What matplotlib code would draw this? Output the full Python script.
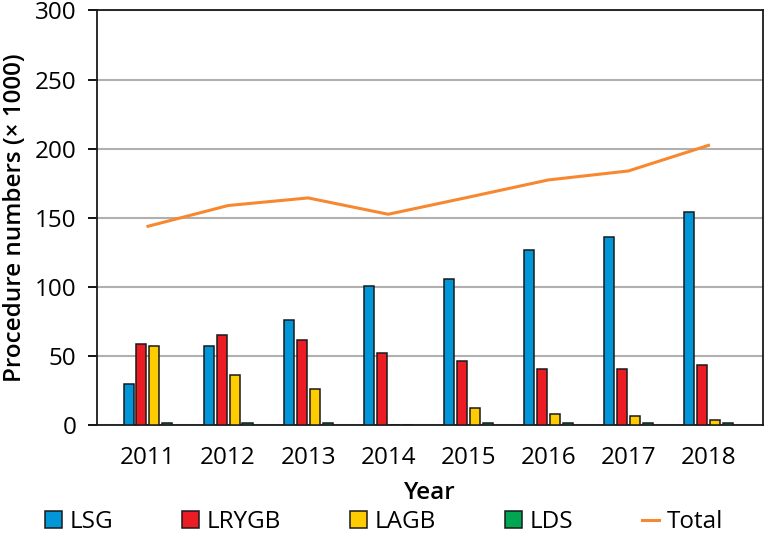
import matplotlib
matplotlib.use("Agg")
import matplotlib.pyplot as plt
import numpy as np

plt.rcParams['font.family'] = ['Open Sans', 'DejaVu Sans']

# data (x 1000 procedures)
years = ['2011', '2012', '2013', '2014', '2015', '2016', '2017', '2018']
lsg = [29.8, 57.6, 76, 101, 106, 126.6, 136.6, 154.4]
lrygb = [58.9, 65.2, 62.1, 52.5, 46.6, 41.1, 41.1, 43.7]
lagb = [57.5, 36.6, 26.6, 0, 13, 8.5, 7, 3.9]
lds = [2, 2, 2, 0, 2, 2, 2, 2]
total = [144, 159, 164.5, 152.7, 165, 177.5, 184, 202.5]

series = [('LSG', lsg, '#0096d8'), ('LRYGB', lrygb, '#ec1c24'),
          ('LAGB', lagb, '#ffcc00'), ('LDS', lds, '#00a651')]

fig = plt.figure(figsize=(7.64, 5.35), dpi=100)
ax = fig.add_axes([0.1266, 0.2047, 0.872, 0.7757])

x = np.arange(len(years))
w = 0.125
step = 0.162
handles = []
for k, (name, vals, col) in enumerate(series):
    b = ax.bar(x + (k - 1.5) * step, vals, width=w, color=col, edgecolor='#1a1a1a',
               linewidth=1.1, label=name, zorder=3)
    handles.append(b)
ln, = ax.plot(x, total, color='#f7882f', lw=2.2, label='Total', zorder=4)
handles.append(ln)

ax.set_xlim(-0.64, 7.68)
ax.set_ylim(0, 300)
ax.set_yticks(range(0, 301, 50))
ax.set_xticks(x)
ax.set_xticklabels(years)
ax.yaxis.grid(True, color='#b0b0b0', lw=1.5, zorder=0)
ax.set_axisbelow(True)
for s in ax.spines.values():
    s.set_linewidth(1.3)
    s.set_color('#1a1a1a')
ax.tick_params(axis='y', length=6.5, width=1.3, direction='out', pad=8, labelsize=17.5)
ax.tick_params(axis='x', length=0, pad=15, labelsize=17.5)

ax.set_ylabel('Procedure numbers (× 1000)', fontsize=17.5, fontweight='semibold', labelpad=6)
ax.set_xlabel('Year', fontsize=17.5, fontweight='semibold', labelpad=8)

fig.legend(handles=handles, labels=['LSG', 'LRYGB', 'LAGB', 'LDS', 'Total'],
           loc='center', bbox_to_anchor=(384 / 764, 1 - 522 / 535), ncol=5,
           frameon=False, fontsize=17.5, handlelength=0.7, handleheight=0.65,
           handletextpad=0.3, columnspacing=2.85, borderaxespad=0)

plt.savefig('out.png', dpi=100)
